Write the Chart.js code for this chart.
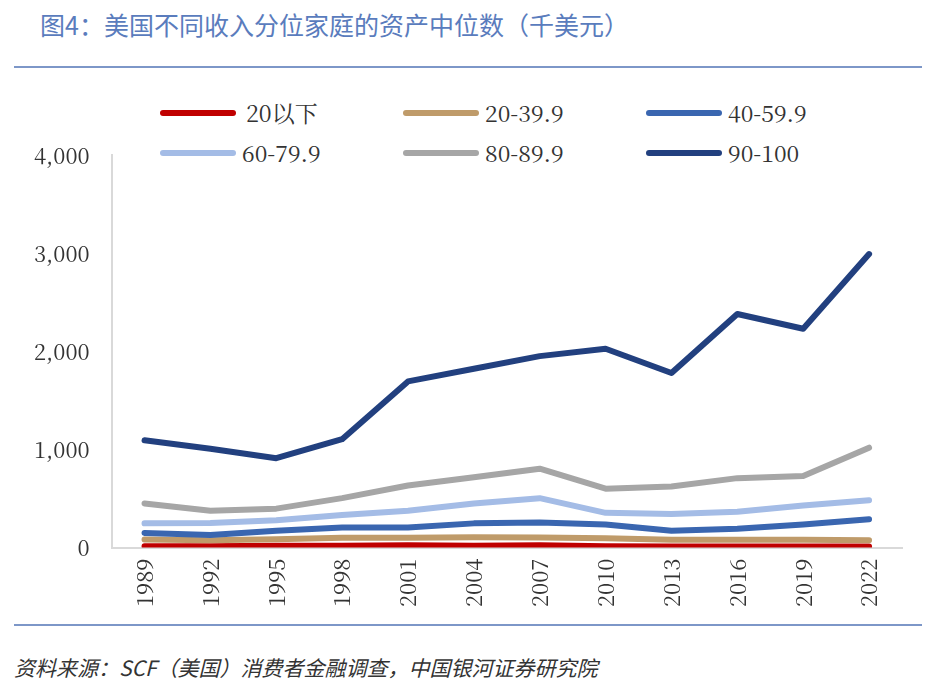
<!DOCTYPE html>
<html><head><meta charset="utf-8">
<script src="https://cdn.jsdelivr.net/npm/chart.js@4"></script>
<style>
body{margin:0;width:927px;height:695px;background:#fff;font-family:"Noto Sans CJK SC",serif;position:relative;overflow:hidden}
#title{position:absolute;left:40px;top:6px;font-size:25px;color:#5a7cbd}
.rule{position:absolute;left:14px;width:908px;height:2px;background:#7d97c8}
#src{position:absolute;left:14px;top:652px;font-size:21px;font-style:italic;color:#333}
#wrap{position:absolute;left:20px;top:128px;width:890px;height:482px}
.lg{position:absolute;font-family:'Noto Serif CJK SC','DejaVu Serif',serif;font-size:23px;color:#333;line-height:26px}
.lg i{position:absolute;height:6px;width:76px;border-radius:3px;top:10px}
</style></head><body>
<div id="title">图4：美国不同收入分位家庭的资产中位数（千美元）</div>
<div class="rule" style="top:66px"></div>
<div class="rule" style="top:624px"></div>
<div id="src">资料来源：SCF（美国）消费者金融调查，中国银河证券研究院</div>
<div id="legend"></div>
<div id="wrap"><canvas id="c"></canvas></div>
<script>
const years = ["1989","1992","1995","1998","2001","2004","2007","2010","2013","2016","2019","2022"];
const s1 = [15,15,18,20,25,20,25,15,10,10,12,12];
const s2 = [83,75,85,100,100,105,103,95,80,80,80,75];
const s3 = [150,129,172,204,204,247,257,236,172,193,236,290];
const s4 = [247,250,279,332,375,450,504,354,343,365,429,483];
const s5 = [450,375,397,504,633,718,804,600,622,708,729,1019];
const s6 = [1094,1008,911,1105,1694,1823,1952,2027,1780,2381,2231,2992];
const names = ["20以下","20-39.9","40-59.9","60-79.9","80-89.9","90-100"];
const colors = ["#c00000","#bf9b6a","#3a66b0","#a4bce6","#a6a6a6","#22407f"];
const series = [s1,s2,s3,s4,s5,s6];

// legend: 3 columns, 2 rows
const lgX = [160,403,646], lgY = [100,140];
names.forEach((n,i)=>{
  const d = document.createElement("div");
  d.className = "lg";
  d.style.left = lgX[i%3] + "px"; d.style.top = lgY[Math.floor(i/3)] + "px";
  d.innerHTML = `<i style="background:${colors[i]}"></i><span style="margin-left:${i==0?86:82}px">${n}</span>`;
  document.getElementById("legend").appendChild(d);
});

const font = {family:"'Noto Serif CJK SC','DejaVu Serif',serif",size:22};
new Chart(document.getElementById("c"),{
  type:"line",
  data:{labels:years,datasets:series.map((d,i)=>({label:names[i],data:d,borderColor:colors[i],backgroundColor:colors[i],borderWidth:6,borderCapStyle:"round",borderJoinStyle:"round",pointRadius:0,tension:0,order:6-i}))},
  options:{responsive:true,maintainAspectRatio:false,animation:false,
    layout:{padding:{right:8,top:0}},
    plugins:{legend:{display:false}},
    scales:{
      x:{offset:true,grid:{display:false},border:{color:"#d9d9d9",width:2},
        ticks:{color:"#333",font:font,maxRotation:90,minRotation:90}},
      y:{min:0,max:4000,grid:{display:false},border:{color:"#d9d9d9",width:2},
        ticks:{stepSize:1000,color:"#333",font:font,padding:14,callback:v=>v.toLocaleString("en-US")}}
    }}
});
</script></body></html>
